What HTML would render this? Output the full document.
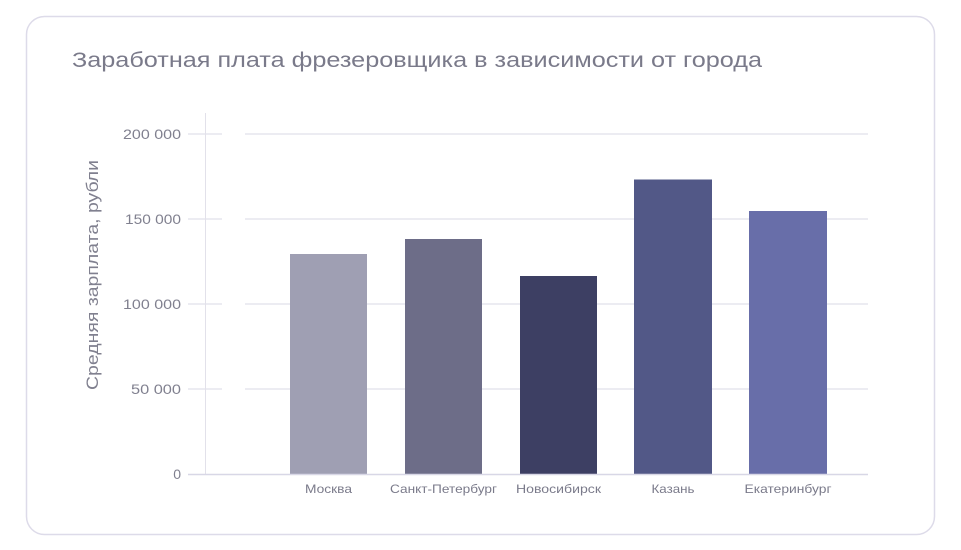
<!DOCTYPE html>
<html><head><meta charset="utf-8"><style>
html,body{margin:0;padding:0;background:#fff;}
svg{display:block;font-family:"Liberation Sans","DejaVu Sans",sans-serif;}
</style></head><body>
<svg width="961" height="550" viewBox="0 0 961 550">
<rect x="26.5" y="16.5" width="908" height="518" rx="18" fill="#fff" stroke="#dddbe9" stroke-width="1.5"/>
<text x="72" y="67" font-size="21" fill="#7a7a8a" textLength="690" lengthAdjust="spacingAndGlyphs">Заработная плата фрезеровщика в зависимости от города</text>
<g stroke="#e6e5ee" stroke-width="1.5">
<line x1="188" y1="134" x2="222" y2="134"/><line x1="245" y1="134" x2="868" y2="134"/>
<line x1="188" y1="219" x2="222" y2="219"/><line x1="245" y1="219" x2="868" y2="219"/>
<line x1="188" y1="304" x2="222" y2="304"/><line x1="245" y1="304" x2="868" y2="304"/>
<line x1="188" y1="389" x2="222" y2="389"/><line x1="245" y1="389" x2="868" y2="389"/>
</g>
<line x1="205.5" y1="113" x2="205.5" y2="474" stroke="#e2e1ea" stroke-width="1"/>
<g fill="#80808f" font-size="14" text-anchor="end">
<text x="181" y="139" textLength="58" lengthAdjust="spacingAndGlyphs">200 000</text>
<text x="181" y="224" textLength="56" lengthAdjust="spacingAndGlyphs">150 000</text>
<text x="181" y="309" textLength="58" lengthAdjust="spacingAndGlyphs">100 000</text>
<text x="181" y="394" textLength="50" lengthAdjust="spacingAndGlyphs">50 000</text>
<text x="181" y="479">0</text>
</g>
<text transform="translate(98,275) rotate(-90)" text-anchor="middle" font-size="17" fill="#80808f" textLength="230" lengthAdjust="spacingAndGlyphs">Средняя зарплата, рубли</text>
<rect x="290" y="254" width="77" height="220" fill="#9f9fb3"/>
<rect x="405" y="239" width="77" height="235" fill="#6d6d88"/>
<rect x="520" y="276" width="77" height="198" fill="#3d3f63"/>
<rect x="634" y="179.5" width="78" height="294.5" fill="#525887"/>
<rect x="749" y="211" width="78" height="263" fill="#686ea9"/>
<line x1="188" y1="474.5" x2="868" y2="474.5" stroke="#d8d7e6" stroke-width="1.5"/>
<g fill="#7a7a8a" font-size="12" text-anchor="middle">
<text x="328.5" y="493" textLength="47" lengthAdjust="spacingAndGlyphs">Москва</text>
<text x="443.5" y="493" textLength="107" lengthAdjust="spacingAndGlyphs">Санкт-Петербург</text>
<text x="558.5" y="493" textLength="85" lengthAdjust="spacingAndGlyphs">Новосибирск</text>
<text x="673" y="493" textLength="43" lengthAdjust="spacingAndGlyphs">Казань</text>
<text x="788" y="493" textLength="87" lengthAdjust="spacingAndGlyphs">Екатеринбург</text>
</g>
</svg>
</body></html>
